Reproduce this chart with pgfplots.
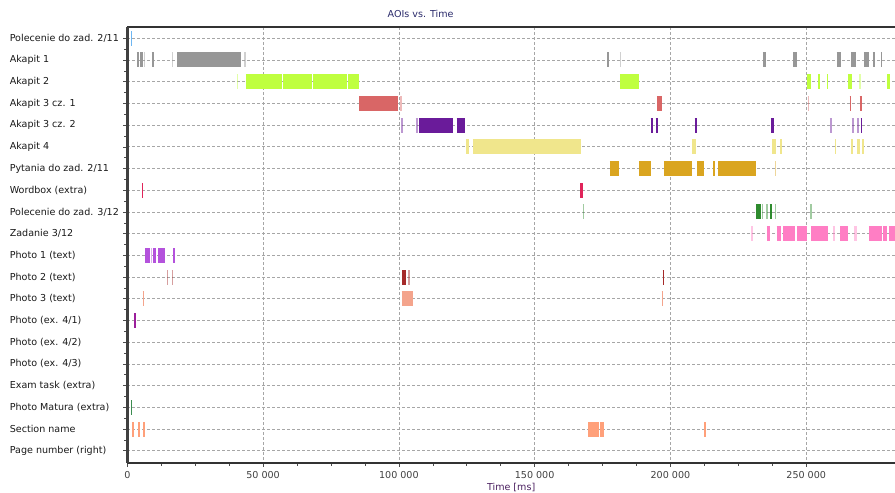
\documentclass[border=0pt]{standalone}
\usepackage{pgfplots}
\pgfplotsset{compat=1.18}
\usepackage{fontspec}
\setmainfont{DejaVu Sans}
\definecolor{cA}{HTML}{6DB6F2}
\definecolor{cB}{HTML}{979797}
\definecolor{cC}{HTML}{BFFF3F}
\definecolor{cD}{HTML}{D96666}
\definecolor{cE}{HTML}{6A1B9A}
\definecolor{cF}{HTML}{F0E68C}
\definecolor{cG}{HTML}{DAA520}
\definecolor{cH}{HTML}{E0245A}
\definecolor{cI}{HTML}{2E8B2E}
\definecolor{cJ}{HTML}{FF7EC4}
\definecolor{cK}{HTML}{B452DC}
\definecolor{cL}{HTML}{A52A2A}
\definecolor{cM}{HTML}{F4A48C}
\definecolor{cN}{HTML}{9B1F9B}
\definecolor{cQ}{HTML}{3C8C50}
\definecolor{cR}{HTML}{FFA07A}
\definecolor{ttl}{HTML}{2B2B6B}
\definecolor{xl}{HTML}{4B2060}
\pgfplotsset{seg/.style={line width=15bp, line cap=butt, mark=none, unbounded coords=jump},
  lt/.style={seg, opacity=0.45}}
\begin{document}
\begin{tikzpicture}
\useasboundingbox (-127.3bp,-30.3bp) rectangle (767.7bp,462.7bp);
\begin{axis}[
  scale only axis, width=767.7bp, height=435.7bp,
  xmin=0, xmax=282700, ymin=-0.52, ymax=19.55, y dir=reverse,
  axis x line*=box, axis y line*=left,
  x axis line style={line width=1.6bp, draw=black!80},
  y axis line style={line width=2.6bp, draw=black!75},
  scaled x ticks=false,
  xtick={0,50000,100000,150000,200000,250000},
  xticklabels={0, 50 000, 100 000, 150 000, 200 000, 250 000},
  minor x tick num=3,
  ytick={0,...,19},
  yticklabels={Polecenie do zad. 2/11, Akapit 1, Akapit 2, Akapit 3 cz. 1, Akapit 3 cz. 2, Akapit 4, Pytania do zad. 2/11, Wordbox (extra), Polecenie do zad. 3/12, Zadanie 3/12, Photo 1 (text), Photo 2 (text), Photo 3 (text), Photo (ex. 4/1), Photo (ex. 4/2), Photo (ex. 4/3), Exam task (extra), Photo Matura (extra), Section name, Page number (right)},
  minor y tick num=1,
  xtick pos=bottom, ytick pos=left,
  tick align=outside,
  major tick length=4bp, minor tick length=3bp,
  tick style={black!70, line width=0.6bp},
  grid=major,
  major grid style={draw=black!35, dash pattern=on 3bp off 2bp, line width=0.7bp},
  yticklabel style={anchor=west, xshift=-117bp, font=\fontsize{9.6}{11}\selectfont, text=black!90},
  xticklabel style={font=\fontsize{9.6}{11}\selectfont, text=black!75, yshift=-1bp},
  xlabel={Time [ms]},
  xlabel style={font=\fontsize{9.6}{11}\selectfont, text=xl, yshift=2bp},
  title={AOIs vs. Time},
  title style={at={(0.382,1)}, anchor=south, yshift=0bp, font=\fontsize{9.6}{11}\selectfont, text=ttl},
]
% Row 0 Polecenie do zad. 2/11
\addplot[seg, cA] coordinates {(1400,0) (1900,0)};
% Row 1 Akapit 1
\addplot[seg, cB] coordinates {(3460,1) (4310,1) (nan,1) (4680,1) (5670,1) (nan,1) (8980,1) (9940,1) (nan,1) (18410,1) (41750,1) (nan,1) (176740,1) (177470,1) (nan,1) (234060,1) (235050,1) (nan,1) (245220,1) (246580,1) (nan,1) (261200,1) (262680,1) (nan,1) (266460,1) (268300,1) (nan,1) (271260,1) (273100,1) (nan,1) (274450,1) (275300,1) (nan,1) (277510,1) (277880,1)};
\addplot[lt, cB] coordinates {(6260,1) (6630,1) (nan,1) (16350,1) (16720,1) (nan,1) (43080,1) (43700,1) (nan,1) (181400,1) (181890,1)};
% Row 2 Akapit 2
\addplot[seg, cC] coordinates {(43700,2) (56960,2) (nan,2) (57330,2) (68010,2) (nan,2) (68490,2) (81000,2) (nan,2) (81370,2) (85420,2) (nan,2) (181400,2) (188400,2) (nan,2) (250380,2) (251620,2) (nan,2) (254430,2) (255170,2) (nan,2) (257630,2) (258110,2) (nan,2) (265360,2) (266720,2) (nan,2) (279830,2) (280710,2)};
\addplot[lt, cC] coordinates {(40280,2) (40760,2) (nan,2) (269410,2) (270040,2)};
% Row 3 Akapit 3 cz. 1
\addplot[seg, cD] coordinates {(85420,3) (99780,3) (nan,3) (195030,3) (196760,3) (nan,3) (265980,3) (266460,3) (nan,3) (269670,3) (270520,3)};
\addplot[lt, cD] coordinates {(100400,3) (101030,3) (nan,3) (250520,3) (251000,3)};
% Row 4 Akapit 3 cz. 2
\addplot[seg, cE] coordinates {(107400,4) (119810,4) (nan,4) (121280,4) (124340,4) (nan,4) (192720,4) (193450,4) (nan,4) (194560,4) (195290,4) (nan,4) (208920,4) (209880,4) (nan,4) (237010,4) (238110,4) (nan,4) (270040,4) (270520,4)};
\addplot[lt, cE] coordinates {(100780,4) (101400,4) (nan,4) (106190,4) (107150,4) (nan,4) (258730,4) (259470,4) (nan,4) (266720,4) (267460,4) (nan,4) (268790,4) (269410,4)};
% Row 5 Akapit 4
\addplot[seg, cF] coordinates {(124710,5) (125700,5) (nan,5) (127170,5) (166940,5) (nan,5) (207810,5) (209290,5) (nan,5) (237490,5) (238850,5) (nan,5) (240320,5) (240950,5) (nan,5) (260570,5) (260940,5) (nan,5) (266460,5) (267320,5) (nan,5) (268560,5) (269780,5) (nan,5) (270410,5) (271260,5)};
% Row 6 Pytania do zad. 2/11
\addplot[seg, cG] coordinates {(177730,6) (181040,6) (nan,6) (188400,6) (192720,6) (nan,6) (197610,6) (208100,6) (nan,6) (209760,6) (212340,6) (nan,6) (215770,6) (216500,6) (nan,6) (217610,6) (231490,6)};
\addplot[lt, cG] coordinates {(238480,6) (238850,6)};
% Row 7 Wordbox
\addplot[seg, cH] coordinates {(5410,7) (5780,7) (nan,7) (166800,7) (167900,7)};
% Row 8 Polecenie do zad. 3/12
\addplot[seg, cI] coordinates {(231490,8) (233210,8) (nan,8) (236540,8) (237370,8)};
\addplot[lt, cI] coordinates {(167680,8) (168160,8) (nan,8) (233690,8) (234170,8) (nan,8) (235170,8) (235910,8) (nan,8) (238480,8) (238850,8) (nan,8) (251370,8) (252110,8)};
% Row 9 Zadanie 3/12
\addplot[seg, cJ] coordinates {(235540,9) (236640,9) (nan,9) (239110,9) (240580,9) (nan,9) (241540,9) (245730,9) (nan,9) (246470,9) (250380,9) (nan,9) (251740,9) (258110,9) (nan,9) (262530,9) (265470,9) (nan,9) (273100,9) (277760,9) (nan,9) (278260,9) (279720,9) (nan,9) (280440,9) (282670,9)};
\addplot[lt, cJ] coordinates {(229760,9) (230270,9) (nan,9) (259720,9) (260460,9) (nan,9) (267580,9) (268560,9)};
% Row 10 Photo 1 (text)
\addplot[seg, cK] coordinates {(6630,10) (8360,10) (nan,10) (9570,10) (10570,10) (nan,10) (11410,10) (13880,10) (nan,10) (16940,10) (17560,10)};
\addplot[lt, cK] coordinates {(8730,10) (8980,10)};
% Row 11 Photo 2 (text)
\addplot[seg, cL] coordinates {(101250,11) (102620,11) (nan,11) (197130,11) (197610,11)};
\addplot[lt, cL] coordinates {(14620,11) (15100,11) (nan,11) (16350,11) (16940,11) (nan,11) (103460,11) (103980,11)};
% Row 12 Photo 3 (text)
\addplot[seg, cM] coordinates {(5670,12) (6040,12) (nan,12) (101030,12) (105310,12) (nan,12) (196760,12) (197360,12)};
% Row 13 Photo (ex. 4/1)
\addplot[seg, cN] coordinates {(2580,13) (3200,13)};
% Row 17 Photo Matura (extra)
\addplot[seg, cQ] coordinates {(1360,17) (1730,17)};
% Row 18 Section name
\addplot[seg, cR] coordinates {(1730,18) (2470,18) (nan,18) (3940,18) (4570,18) (nan,18) (5890,18) (6520,18) (nan,18) (169740,18) (173680,18) (nan,18) (174050,18) (175520,18) (nan,18) (212340,18) (212960,18)};
\end{axis}
\end{tikzpicture}
\end{document}
